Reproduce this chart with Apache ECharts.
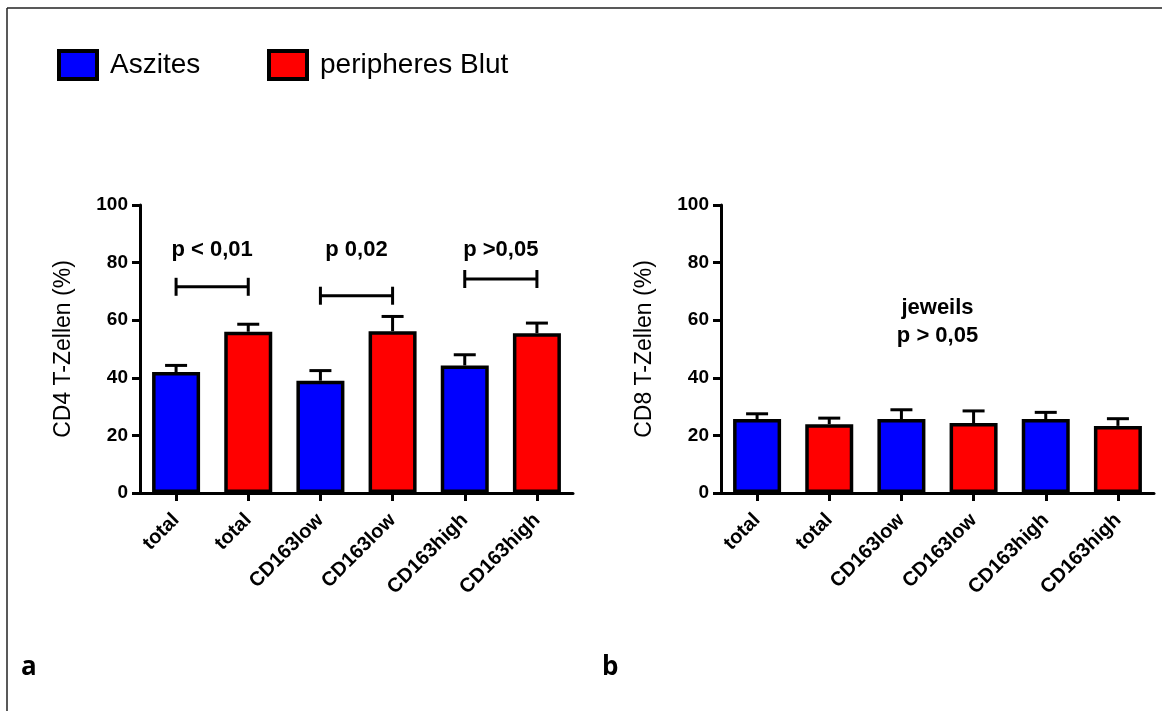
<!DOCTYPE html>
<html>
<head>
<meta charset="utf-8">
<script src="https://cdn.jsdelivr.net/npm/echarts@6/dist/echarts.min.js"></script>
<style>
html,body{margin:0;padding:0;background:#fff;}
#main{width:1162px;height:711px;}
</style>
</head>
<body>
<div id="main"></div>
<script>
// ---- data ----
var categories = ['total', 'total', 'CD163low', 'CD163low', 'CD163high', 'CD163high'];
var yTicks = [0, 20, 40, 60, 80, 100];
// panel a: CD4
var cd4Aszites = [42, '-', 39, '-', 44.3, '-'];
var cd4Blut    = ['-', 56, '-', 56.2, '-', 55.5];
var cd4ErrTop  = [44.3, 58.6, 42.5, 61.3, 48, 59];
var cd4Brackets = [[0, 1, 71.6], [2, 3, 68.5], [4, 5, 74.3]];
var cd4Notes = [[0, 1, 84.4, 'p < 0,01'], [2, 3, 84.4, 'p 0,02'], [4, 5, 84.4, 'p >0,05']];
// panel b: CD8
var cd8Aszites = [25.7, '-', 25.7, '-', 25.7, '-'];
var cd8Blut    = ['-', 23.9, '-', 24.3, '-', 23.3];
var cd8ErrTop  = [27.5, 26, 28.9, 28.5, 28, 25.8];
var cd8Notes = [[2, 3, 59.5, 'jeweils\np > 0,05']];

var FONT = 'Liberation Sans, Arial, sans-serif';
var BLUE = '#0000ff', RED = '#ff0000';

function yAxis(gi, name) {
  return {
    type: 'value', gridIndex: gi, min: 0, max: 100, interval: 20,
    name: name, nameLocation: 'middle', nameGap: 65,
    nameTextStyle: {fontFamily: FONT, fontSize: 23, color: '#000'},
    axisLine: {show: true, lineStyle: {color: '#000', width: 3}},
    axisTick: {show: true, length: 8, lineStyle: {color: '#000', width: 3}},
    axisLabel: {fontFamily: FONT, fontSize: 19, fontWeight: 'bold', color: '#000', margin: 12,
      formatter: function (v) { return yTicks.indexOf(v) >= 0 ? String(v) : ''; }},
    splitLine: {show: false}
  };
}
function xAxis(gi) {
  return {
    type: 'category', gridIndex: gi, data: categories,
    axisLine: {lineStyle: {color: '#000', width: 3}},
    axisTick: {show: true, alignWithLabel: true, length: 8, lineStyle: {color: '#000', width: 3}},
    axisLabel: {fontFamily: FONT, fontSize: 20, fontWeight: 'bold', color: '#000', rotate: 45, margin: 24, interval: 0}
  };
}
function bar(name, data, color, idx) {
  return {
    name: name, type: 'bar', xAxisIndex: idx, yAxisIndex: idx, data: data,
    barWidth: 48, barGap: '-100%', z: 3,
    itemStyle: {color: color, borderColor: '#000', borderWidth: 3.5}
  };
}
function errSeries(errTop, vals1, vals2, idx) {
  var d = errTop.map(function (e, i) {
    var v = vals1[i] !== '-' ? vals1[i] : vals2[i];
    return [i, v, e];
  });
  return {
    type: 'custom', xAxisIndex: idx, yAxisIndex: idx, data: d, z: 2, silent: true,
    renderItem: function (params, api) {
      var b = api.coord([api.value(0), api.value(1)]);
      var t = api.coord([api.value(0), api.value(2)]);
      var st = {stroke: '#000', lineWidth: 3};
      return {type: 'group', children: [
        {type: 'line', shape: {x1: b[0], y1: b[1], x2: t[0], y2: t[1]}, style: st},
        {type: 'line', shape: {x1: t[0] - 11, y1: t[1], x2: t[0] + 11, y2: t[1]}, style: st}
      ]};
    }
  };
}
function bracketSeries(data, idx) {
  return {
    type: 'custom', xAxisIndex: idx, yAxisIndex: idx, data: data, z: 4, silent: true,
    renderItem: function (params, api) {
      var a = api.coord([api.value(0), api.value(2)]);
      var b = api.coord([api.value(1), api.value(2)]);
      var st = {stroke: '#000', lineWidth: 3};
      return {type: 'group', children: [
        {type: 'line', shape: {x1: a[0], y1: a[1], x2: b[0], y2: b[1]}, style: st},
        {type: 'line', shape: {x1: a[0], y1: a[1] - 9, x2: a[0], y2: a[1] + 9}, style: st},
        {type: 'line', shape: {x1: b[0], y1: b[1] - 9, x2: b[0], y2: b[1] + 9}, style: st}
      ]};
    }
  };
}
function noteSeries(data, idx) {
  return {
    type: 'custom', xAxisIndex: idx, yAxisIndex: idx, data: data, z: 5, silent: true,
    renderItem: function (params, api) {
      var a = api.coord([api.value(0), api.value(2)]);
      var b = api.coord([api.value(1), api.value(2)]);
      return {type: 'text', x: (a[0] + b[0]) / 2, y: a[1],
        style: {text: data[params.dataIndex][3], fontFamily: FONT, fontSize: 22, fontWeight: 'bold',
          fill: '#000', align: 'center', verticalAlign: 'middle', lineHeight: 28}};
    }
  };
}
function legend(name, left) {
  return {
    data: [name], left: left, top: 44, icon: 'rect', itemWidth: 38, itemHeight: 28,
    itemStyle: {borderColor: '#000', borderWidth: 4},
    textStyle: {fontFamily: FONT, fontSize: 28, color: '#000', padding: [0, 0, 0, 8]},
    selectedMode: false
  };
}

var chart = echarts.init(document.getElementById('main'), null, {renderer: 'canvas'});
chart.setOption({
  backgroundColor: '#fff',
  animation: false,
  legend: [legend('Aszites', 52), legend('peripheres Blut', 262)],
  grid: [
    {left: 140, top: 205, width: 433, height: 288, containLabel: false},
    {left: 721, top: 205, width: 433, height: 288, containLabel: false}
  ],
  xAxis: [xAxis(0), xAxis(1)],
  yAxis: [yAxis(0, 'CD4 T-Zellen (%)'), yAxis(1, 'CD8 T-Zellen (%)')],
  graphic: [
    {type: 'line', shape: {x1: 7, y1: 8, x2: 1162, y2: 8}, style: {stroke: '#222', lineWidth: 1.5}},
    {type: 'line', shape: {x1: 7, y1: 8, x2: 7, y2: 711}, style: {stroke: '#222', lineWidth: 1.5}},
    {type: 'text', left: 21, top: 655, style: {text: 'a', fontFamily: 'Open Sans, sans-serif', fontSize: 26, fontWeight: 'bold', fill: '#000'}},
    {type: 'text', left: 602, top: 655, style: {text: 'b', fontFamily: 'Open Sans, sans-serif', fontSize: 26, fontWeight: 'bold', fill: '#000'}}
  ],
  series: [
    bar('Aszites', cd4Aszites, BLUE, 0),
    bar('peripheres Blut', cd4Blut, RED, 0),
    errSeries(cd4ErrTop, cd4Aszites, cd4Blut, 0),
    bracketSeries(cd4Brackets, 0),
    noteSeries(cd4Notes, 0),
    bar('Aszites', cd8Aszites, BLUE, 1),
    bar('peripheres Blut', cd8Blut, RED, 1),
    errSeries(cd8ErrTop, cd8Aszites, cd8Blut, 1),
    noteSeries(cd8Notes, 1)
  ]
});
</script>
</body>
</html>
